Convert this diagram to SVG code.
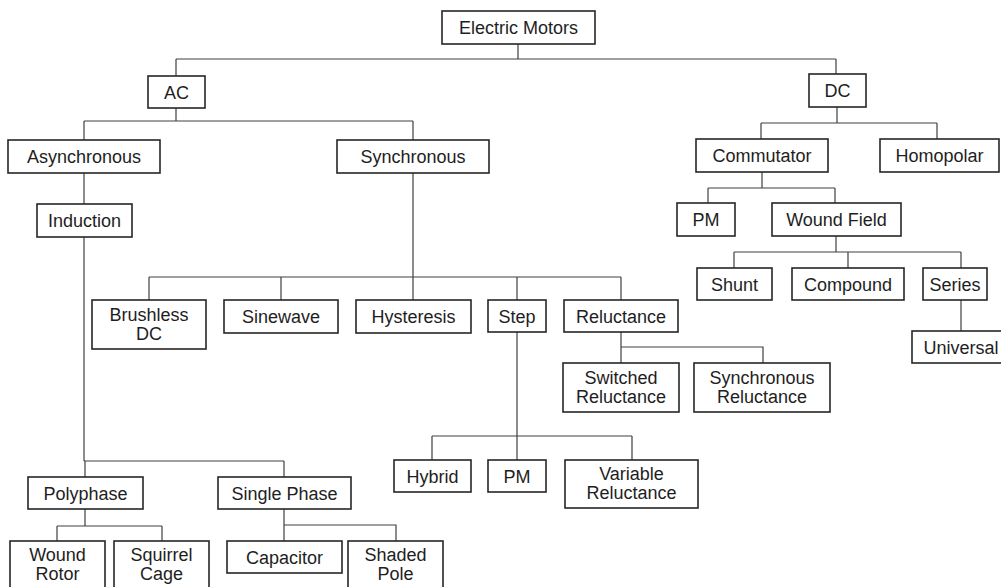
<svg xmlns="http://www.w3.org/2000/svg" width="1001" height="587" viewBox="0 0 1001 587">
<style>
.b{fill:#fff;stroke:#262626;stroke-width:1.6}
.t{font-family:"Liberation Sans",Arial,sans-serif;font-size:18px;fill:#1e1e1e;text-anchor:middle}
.c{fill:none;stroke:#404040;stroke-width:1.2}
</style>
<rect width="1001" height="587" fill="#fff"/>
<g id="connectors" class="c">
<path d="M518 44V59M176 59H836M176 59V76M836 59V74"/>
<path d="M176 108V121M84 121H413M84 121V140M413 121V140"/>
<path d="M837 107V123M761 123H937M761 123V139M937 123V139"/>
<path d="M762 172V188M708 188H835M708 188V203M835 188V203"/>
<path d="M836 236V252M734 252H961M734 252V268M848 252V268M961 252V268"/>
<path d="M961 300V331"/>
<path d="M84 173V204M84 237V461M84 461H284M85 461V477M284 461V477"/>
<path d="M413 173V300M149 277H621M149 277V300M281 277V300M517 277V300M621 277V300"/>
<path d="M621 332V347H763V363M621 347V363"/>
<path d="M517 332V460M432 436H632M432 436V460M632 436V460"/>
<path d="M85 509V526M57 526H162M57 526V541M162 526V541"/>
<path d="M284 509V541M284 525H396V541"/>
</g>
<g id="electric-motors"><rect class="b" x="442" y="11" width="153" height="33"/><text class="t" x="518.5" y="34">Electric Motors</text></g>
<g id="ac"><rect class="b" x="148" y="76" width="57" height="32"/><text class="t" x="176.5" y="98.5">AC</text></g>
<g id="dc"><rect class="b" x="809" y="74" width="57" height="33"/><text class="t" x="837.5" y="97">DC</text></g>
<g id="asynchronous"><rect class="b" x="8" y="140" width="152" height="33"/><text class="t" x="84" y="163">Asynchronous</text></g>
<g id="synchronous"><rect class="b" x="337" y="140" width="152" height="33"/><text class="t" x="413" y="163">Synchronous</text></g>
<g id="commutator"><rect class="b" x="696" y="139" width="132" height="33"/><text class="t" x="762" y="162">Commutator</text></g>
<g id="homopolar"><rect class="b" x="880" y="139" width="119" height="33"/><text class="t" x="939.5" y="162">Homopolar</text></g>
<g id="induction"><rect class="b" x="37" y="204" width="95" height="33"/><text class="t" x="84.5" y="227">Induction</text></g>
<g id="pm-dc"><rect class="b" x="677" y="203" width="58" height="33"/><text class="t" x="706" y="226">PM</text></g>
<g id="wound-field"><rect class="b" x="772" y="203" width="129" height="33"/><text class="t" x="836.5" y="226">Wound Field</text></g>
<g id="shunt"><rect class="b" x="697" y="268" width="75" height="32"/><text class="t" x="734.5" y="290.5">Shunt</text></g>
<g id="compound"><rect class="b" x="792" y="268" width="112" height="32"/><text class="t" x="848" y="290.5">Compound</text></g>
<g id="series"><rect class="b" x="923" y="268" width="64" height="32"/><text class="t" x="955" y="290.5">Series</text></g>
<g id="universal"><rect class="b" x="912" y="331" width="100" height="32"/><text class="t" x="961" y="353.5">Universal</text></g>
<g id="brushless-dc"><rect class="b" x="92" y="300" width="114" height="49"/><text class="t" x="149" y="320.5">Brushless</text><text class="t" x="149" y="339.5">DC</text></g>
<g id="sinewave"><rect class="b" x="224" y="300" width="114" height="33"/><text class="t" x="281" y="323">Sinewave</text></g>
<g id="hysteresis"><rect class="b" x="356" y="300" width="115" height="33"/><text class="t" x="413.5" y="323">Hysteresis</text></g>
<g id="step"><rect class="b" x="488" y="300" width="58" height="32"/><text class="t" x="517" y="322.5">Step</text></g>
<g id="reluctance"><rect class="b" x="564" y="300" width="114" height="32"/><text class="t" x="621" y="322.5">Reluctance</text></g>
<g id="switched-reluctance"><rect class="b" x="563" y="363" width="116" height="49"/><text class="t" x="621" y="384">Switched</text><text class="t" x="621" y="403">Reluctance</text></g>
<g id="synchronous-reluctance"><rect class="b" x="694" y="363" width="136" height="49"/><text class="t" x="762" y="384">Synchronous</text><text class="t" x="762" y="403">Reluctance</text></g>
<g id="hybrid"><rect class="b" x="394" y="460" width="77" height="32"/><text class="t" x="432.5" y="482.5">Hybrid</text></g>
<g id="pm-step"><rect class="b" x="488" y="460" width="58" height="32"/><text class="t" x="517" y="482.5">PM</text></g>
<g id="variable-reluctance"><rect class="b" x="565" y="460" width="133" height="48"/><text class="t" x="631.5" y="480">Variable</text><text class="t" x="631.5" y="499">Reluctance</text></g>
<g id="polyphase"><rect class="b" x="28" y="477" width="115" height="32"/><text class="t" x="85.5" y="499.5">Polyphase</text></g>
<g id="single-phase"><rect class="b" x="218" y="477" width="133" height="32"/><text class="t" x="284.5" y="499.5">Single Phase</text></g>
<g id="wound-rotor"><rect class="b" x="10" y="541" width="95" height="60"/><text class="t" x="57.5" y="561">Wound</text><text class="t" x="57.5" y="580">Rotor</text></g>
<g id="squirrel-cage"><rect class="b" x="114" y="541" width="95" height="60"/><text class="t" x="161.5" y="561">Squirrel</text><text class="t" x="161.5" y="580">Cage</text></g>
<g id="capacitor"><rect class="b" x="227" y="541" width="115" height="32"/><text class="t" x="284.5" y="563.5">Capacitor</text></g>
<g id="shaded-pole"><rect class="b" x="348" y="541" width="95" height="60"/><text class="t" x="395.5" y="561">Shaded</text><text class="t" x="395.5" y="580">Pole</text></g>
</svg>
